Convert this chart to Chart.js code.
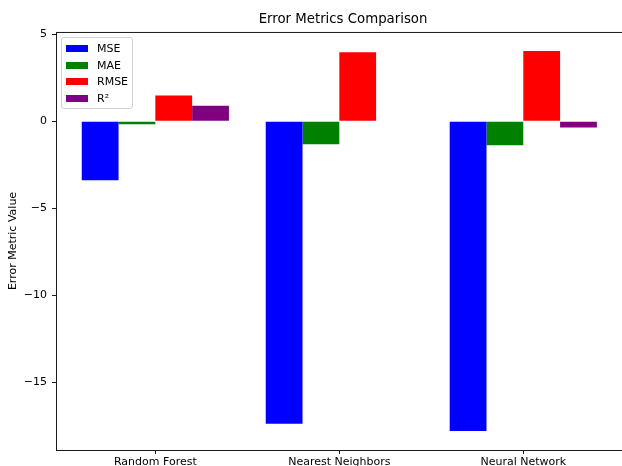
<!DOCTYPE html>
<html>
<head>
<meta charset="utf-8">
<title>Error Metrics Comparison</title>
<script src="https://cdn.jsdelivr.net/npm/chart.js"></script>
<style>
    html, body { margin: 0; padding: 0; background: #fff; overflow: hidden; }
    #wrap { position: relative; width: 630px; height: 470px; }
    #legend {
        position: absolute; left: 61px; top: 37px; width: 70px; height: 68px;
        border: 1px solid #d0d0d0; border-radius: 3px; background: rgba(255,255,255,0.8);
        font-family: 'DejaVu Sans', sans-serif; font-size: 11px; color: #000;
        box-sizing: content-box; padding-top: 2px;
    }
    .legend-row { display: flex; align-items: center; height: 16.7px; }
    .legend-swatch { width: 22px; height: 7px; margin-left: 4px; margin-right: 9px; }
</style>
</head>
<body>
<div id="wrap">
    <canvas id="metricsChart" width="630" height="470"></canvas>
    <div id="legend"></div>
</div>
<script>
// Error metrics per model
const models = ['Random Forest', 'Nearest Neighbors', 'Neural Network'];
const mseValues = [-3.39, -17.37, -17.78];
const maeValues = [-0.17, -1.32, -1.38];
const rmseValues = [1.48, 3.97, 4.04];
const r2Values = [0.89, -0.02, -0.36];
const yTicks = [-15, -10, -5, 0, 5];

const axisColor = '#1a1a1a';
const fontFamily = "'DejaVu Sans', sans-serif";

function toPoints(values) {
    return values.map((v, i) => ({ x: i, y: v }));
}

// Draws the four-sided frame round the plot area, like matplotlib spines
const frame = {
    id: 'frame',
    afterDraw(chart) {
        const { ctx, chartArea: a } = chart;
        ctx.save();
        ctx.strokeStyle = axisColor;
        ctx.lineWidth = 1;
        ctx.strokeRect(a.left + 0.5, a.top + 0.5, a.right - a.left, a.bottom - a.top);
        ctx.restore();
    }
};

const chart = new Chart(document.getElementById('metricsChart'), {
    type: 'bar',
    data: {
        datasets: [
            { label: 'MSE', data: toPoints(mseValues), backgroundColor: '#0000ff' },
            { label: 'MAE', data: toPoints(maeValues), backgroundColor: '#008000' },
            { label: 'RMSE', data: toPoints(rmseValues), backgroundColor: '#ff0000' },
            { label: 'R²', data: toPoints(r2Values), backgroundColor: '#800080' }
        ]
    },
    options: {
        responsive: false,
        animation: false,
        layout: { padding: 0 },
        datasets: { bar: { categoryPercentage: 0.8, barPercentage: 1.0 } },
        scales: {
            x: {
                type: 'linear',
                min: -0.54,
                max: 2.58,   // the right spine falls just outside the picture
                offset: false,
                border: { display: false },
                grid: { drawOnChartArea: false, tickLength: 4, color: axisColor, offset: false },
                ticks: {
                    color: '#000',
                    padding: 2,
                    maxRotation: 0,
                    autoSkip: false,
                    font: { family: fontFamily, size: 11 },
                    callback: (value, index) => models[index]
                },
                afterBuildTicks(scale) {
                    scale.ticks = models.map((m, i) => ({ value: i }));
                },
                afterFit(scale) { scale.height = 20; }
            },
            y: {
                min: -18.87,
                max: 5.13,
                border: { display: false },
                grid: { drawOnChartArea: false, tickLength: 4, color: axisColor },
                ticks: {
                    color: '#000',
                    padding: 5,
                    font: { family: fontFamily, size: 11 },
                    callback: v => String(v).replace('-', '\u2212')
                },
                afterBuildTicks(scale) {
                    scale.ticks = yTicks.map(v => ({ value: v }));
                },
                title: {
                    display: true,
                    text: 'Error Metric Value',
                    color: '#000',
                    font: { family: fontFamily, size: 11 },
                    padding: { top: 6.5, bottom: 0 }
                },
                afterFit(scale) { scale.width = 56; }
            }
        },
        plugins: {
            legend: { display: false },
            tooltip: { enabled: false },
            title: {
                display: true,
                text: 'Error Metrics Comparison',
                color: '#000',
                fullSize: false,
                font: { family: fontFamily, size: 13.3, weight: 'normal' },
                padding: { top: 12, bottom: 4 }
            }
        }
    },
    plugins: [frame]
});

// Legend drawn inside the plot, upper left
const legendEl = document.getElementById('legend');
chart.data.datasets.forEach(ds => {
    const row = document.createElement('div');
    row.className = 'legend-row';
    const sw = document.createElement('span');
    sw.className = 'legend-swatch';
    sw.style.background = ds.backgroundColor;
    const txt = document.createElement('span');
    txt.textContent = ds.label;
    row.appendChild(sw);
    row.appendChild(txt);
    legendEl.appendChild(row);
});
</script>
</body>
</html>
